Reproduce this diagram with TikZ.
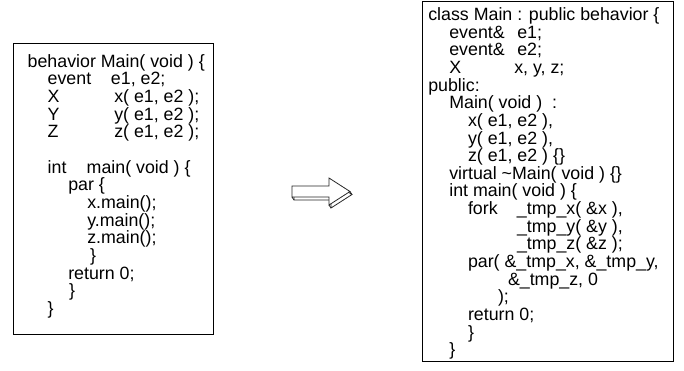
\documentclass[tikz,border=0pt]{standalone}
\usepackage{fontspec}
\setmainfont{Liberation Sans}
\begin{document}
\begin{tikzpicture}[x=1pt,y=-1pt,
  code/.style={anchor=base west, inner sep=0pt, outer sep=0pt,
    font=\fontsize{17.8}{17.6}\selectfont},
  codebox/.style={draw=black, line width=0.9pt, inner sep=0pt, outer sep=0pt},
  blockarrow/.style={draw=black!85, line width=0.8pt, fill=white, line join=miter}]
\useasboundingbox (0,0) rectangle (684,371);

% source listing
\node[codebox, minimum width=200pt, minimum height=291pt] (src) at (113,188.5) {};
\node[code] (s0)  at (27.7, 67.2)  {behavior Main( void ) \{};
\node[code] (s1)  at (47.7, 67.2+17.65*1)  {\makebox[63.3pt][l]{event}e1, e2;};
\node[code] (s2)  at (47.7, 67.2+17.65*2)  {\makebox[66.6pt][l]{X}x( e1, e2 );};
\node[code] (s3)  at (47.7, 67.2+17.65*3)  {\makebox[66.6pt][l]{Y}y( e1, e2 );};
\node[code] (s4)  at (47.7, 67.2+17.65*4)  {\makebox[66.6pt][l]{Z}z( e1, e2 );};
\node[code] (s6)  at (47.7, 67.2+17.65*6)  {\makebox[39pt][l]{int}main( void ) \{};
\node[code] (s7)  at (68.3, 67.2+17.65*7)  {par \{};
\node[code] (s8)  at (87.3, 67.2+17.65*8)  {x.main();};
\node[code] (s9)  at (87.3, 67.2+17.65*9)  {y.main();};
\node[code] (s10) at (87.3, 67.2+17.65*10) {z.main();};
\node[code] (s11) at (90.0, 67.2+17.65*11) {\}};
\node[code] (s12) at (68.3, 67.2+17.65*12) {return 0;};
\node[code] (s13) at (69.0, 67.2+17.65*13) {\}};
\node[code] (s14) at (47.7, 67.2+17.65*14) {\}};

% translated listing
\node[codebox, minimum width=251pt, minimum height=360pt] (dst) at (547.8,181.7) {};
\node[code] (t0)  at (428.3, 20.5)  {class Main : public behavior \{};
\node[code] (t1)  at (449.3, 20.5+17.65*1)  {\makebox[68pt][l]{event\&}e1;};
\node[code] (t2)  at (449.3, 20.5+17.65*2)  {\makebox[68pt][l]{event\&}e2;};
\node[code] (t3)  at (449.3, 20.5+17.65*3)  {\makebox[65pt][l]{X}x, y, z;};
\node[code] (t4)  at (428.3, 20.5+17.65*4)  {public:};
\node[code] (t5)  at (449.3, 20.5+17.65*5)  {Main( void )\ \ :};
\node[code] (t6)  at (468.0, 20.5+17.65*6)  {x( e1, e2 ),};
\node[code] (t7)  at (468.0, 20.5+17.65*7)  {y( e1, e2 ),};
\node[code] (t8)  at (468.0, 20.5+17.65*8)  {z( e1, e2 ) \{\}};
\node[code] (t9)  at (449.3, 20.5+17.65*9)  {virtual \textasciitilde Main( void ) \{\}};
\node[code] (t10) at (449.3, 20.5+17.65*10) {int main( void ) \{};
\node[code] (t11) at (468.0, 20.5+17.65*11) {\makebox[49pt][l]{fork}\_tmp\_x( \&x ),};
\node[code] (t12) at (517.0, 20.5+17.65*12) {\_tmp\_y( \&y ),};
\node[code] (t13) at (517.0, 20.5+17.65*13) {\_tmp\_z( \&z );};
\node[code] (t14) at (468.0, 20.5+17.65*14) {par( \&\_tmp\_x, \&\_tmp\_y,};
\node[code] (t15) at (508.0, 20.5+17.65*15) {\&\_tmp\_z, 0};
\node[code] (t16) at (498.0, 20.5+17.65*16) {);};
\node[code] (t17) at (468.0, 20.5+17.65*17) {return 0;};
\node[code] (t18) at (468.0, 20.5+17.65*18) {\}};
\node[code] (t19) at (449.3, 20.5+17.65*19) {\}};

% extruded block arrow: back face, depth edges, front face
\begin{scope}[shift={(2,3)}]
  \path[blockarrow] (292,186) -- (329,186) -- (329,178) -- (350,191.5)
    -- (329,205) -- (329,197) -- (292,197) -- cycle;
\end{scope}
\draw[blockarrow] (292,197) -- (294,200) (329,205) -- (331,208) (350,191.5) -- (352,194.5);
\path[blockarrow] (292,186) -- (329,186) -- (329,178) -- (350,191.5)
  -- (329,205) -- (329,197) -- (292,197) -- cycle;
\end{tikzpicture}
\end{document}
